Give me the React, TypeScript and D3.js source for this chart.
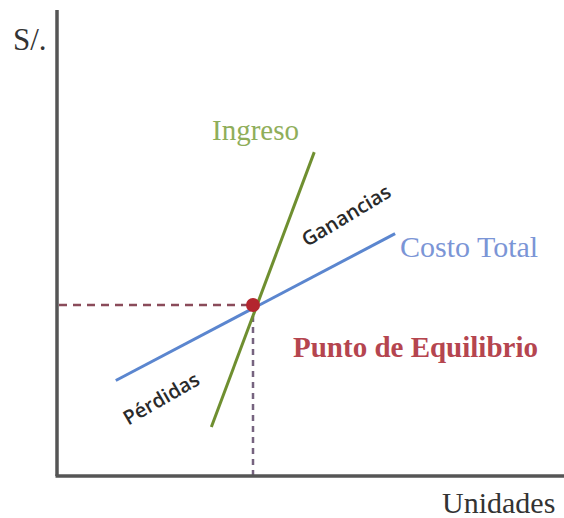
import React from 'react';
import * as d3 from 'd3';

// break-even chart: units (x) vs soles (y)
const costUnits = [1.2, 6.9];
const costValues = [2.05, 5.2];
const revenueUnits = [3.15, 5.25];
const revenueValues = [1.05, 6.95];
const breakEven = [4.0, 3.67];

const width = 564;
const height = 518;
const margin = { top: 10, left: 57, bottom: 42 };

const serif = '"Liberation Serif", "DejaVu Serif", serif';
const sans = '"Open Sans", "Liberation Sans", sans-serif';

const App = () => {
  const x = d3.scaleLinear().domain([0, 10]).range([margin.left, margin.left + 490]);
  const y = d3.scaleLinear().domain([0, 10]).range([height - margin.bottom, margin.top]);

  const line = d3
    .line<[number, number]>()
    .x((d) => x(d[0]))
    .y((d) => y(d[1]));

  const costPts = costUnits.map((u, i) => [u, costValues[i]] as [number, number]);
  const revenuePts = revenueUnits.map((u, i) => [u, revenueValues[i]] as [number, number]);

  const bx = x(breakEven[0]);
  const by = y(breakEven[1]);
  const x0 = x(0);
  const y0 = y(0);

  return (
    <svg
      width={width}
      height={height}
      style={{ position: 'absolute', left: 0, top: 0, background: '#fff' }}
    >
      {/* guide lines */}
      <line x1={x0 + 2} y1={by} x2={bx} y2={by} stroke="#8a4b5a" strokeWidth={2.5} strokeDasharray="8 6" />
      <line x1={bx} y1={by} x2={bx} y2={y0} stroke="#76637f" strokeWidth={2.5} strokeDasharray="6 5" />

      {/* axes */}
      <line x1={x0} y1={margin.top} x2={x0} y2={y0} stroke="#555" strokeWidth={3.5} />
      <line x1={x0 - 1.5} y1={y0} x2={width} y2={y0} stroke="#555" strokeWidth={3.5} />

      {/* series */}
      <path d={line(costPts) ?? ''} stroke="#5b86cf" strokeWidth={3} fill="none" />
      <path d={line(revenuePts) ?? ''} stroke="#6f8f30" strokeWidth={3} fill="none" />
      <circle cx={bx} cy={by} r={7} fill="#b3262e" />

      {/* labels */}
      <text x={13} y={50} fontFamily={serif} fontSize={31} fill="#333">S/.</text>
      <text x={212} y={140} fontFamily={serif} fontSize={29} fill="#8fae5a">Ingreso</text>
      <text x={400} y={257} fontFamily={serif} fontSize={30} fill="#7b95d6">Costo Total</text>
      <text x={293} y={357} fontFamily={serif} fontSize={29} fontWeight="bold" fill="#b5454f">
        Punto de Equilibrio
      </text>
      <text x={442} y={513} fontFamily={serif} fontSize={30} fill="#333">Unidades</text>

      <text
        transform="translate(347,217) rotate(-31)"
        textAnchor="middle"
        dominantBaseline="middle"
        fontFamily={sans}
        fontSize={20}
        fontWeight={600}
        fill="#2a2a2a"
      >
        Ganancias
      </text>
      <text
        transform="translate(162,400) rotate(-30)"
        textAnchor="middle"
        dominantBaseline="middle"
        fontFamily={sans}
        fontSize={20}
        fontWeight={600}
        fill="#2a2a2a"
      >
        Pérdidas
      </text>
    </svg>
  );
};

export default App;
